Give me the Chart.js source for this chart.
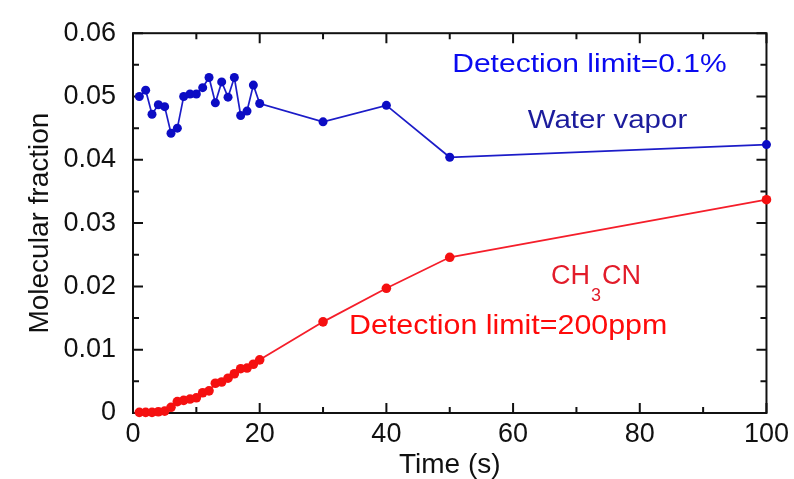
<!DOCTYPE html>
<html>
<head>
<meta charset="utf-8">
<script src="https://cdn.jsdelivr.net/npm/chart.js@4"></script>
<style>
  html, body { margin: 0; padding: 0; background: #fff; }
  #wrap { width: 794px; height: 479px; }
</style>
</head>
<body>
<div id="wrap"><canvas id="chart" width="794" height="479"></canvas></div>
<script>
// time points (s)
const times = [1, 2, 3, 4, 5, 6, 7, 8, 9, 10, 11, 12, 13, 14, 15, 16, 17, 18, 19, 20, 30, 40, 50, 100];

// molecular fraction of water vapor
const waterVapor = [
  0.0500, 0.0510, 0.0472, 0.0487, 0.0484, 0.0442, 0.0450, 0.0500, 0.0504, 0.0504,
  0.0514, 0.0530, 0.0490, 0.0523, 0.0499, 0.0530, 0.0470, 0.0477, 0.0518, 0.0489,
  0.0460, 0.0486, 0.0404, 0.0424
];

// molecular fraction of CH3CN
const acetonitrile = [
  0.0001, 0.0001, 0.0001, 0.0002, 0.0003, 0.0009, 0.0018, 0.0020, 0.0022, 0.0024,
  0.0032, 0.0035, 0.0047, 0.0049, 0.0055, 0.0062, 0.0070, 0.0071, 0.0077, 0.0084,
  0.0144, 0.0197, 0.0246, 0.0337
];

const xTicks = [0, 20, 40, 60, 80, 100];
const yTicks = [0, 0.01, 0.02, 0.03, 0.04, 0.05, 0.06];

const FONT = "'Liberation Sans', Arial, sans-serif";

function toPoints(ys) {
  return times.map((t, i) => ({ x: t, y: ys[i] }));
}

// draws the box around the plot with inward ticks on all four sides
const framePlugin = {
  id: "frame",
  beforeDatasetsDraw(chart) {
    const { ctx, chartArea: a, scales } = chart;
    const xs = scales.x, ys = scales.y;
    ctx.save();
    ctx.strokeStyle = "#111";
    ctx.lineWidth = 2;
    ctx.strokeRect(a.left, a.top, a.right - a.left, a.bottom - a.top);

    ctx.beginPath();
    for (let v = 0; v <= 100; v += 10) {
      const len = v % 20 === 0 ? 10 : 6;
      const px = xs.getPixelForValue(v);
      ctx.moveTo(px, a.bottom);
      ctx.lineTo(px, a.bottom - len);
      ctx.moveTo(px, a.top);
      ctx.lineTo(px, a.top + len);
    }
    for (let k = 0; k <= 12; k++) {
      const len = k % 2 === 0 ? 10 : 6;
      const py = ys.getPixelForValue(k * 0.005);
      ctx.moveTo(a.left, py);
      ctx.lineTo(a.left + len, py);
      ctx.moveTo(a.right, py);
      ctx.lineTo(a.right - len, py);
    }
    ctx.stroke();
    ctx.restore();
  },
};

function drawLabel(ctx, text, x, y, size, sx, color) {
  ctx.save();
  ctx.translate(x, y);
  ctx.scale(sx, 1);
  ctx.font = size + "px " + FONT;
  ctx.fillStyle = color;
  ctx.textBaseline = "alphabetic";
  ctx.textAlign = "left";
  ctx.fillText(text, 0, 0);
  const w = ctx.measureText(text).width * sx;
  ctx.restore();
  return w;
}

// text annotations placed in data coordinates
const notesPlugin = {
  id: "notes",
  afterDatasetsDraw(chart) {
    const { ctx, scales } = chart;
    const X = (v) => scales.x.getPixelForValue(v);
    const Y = (v) => scales.y.getPixelForValue(v);

    drawLabel(ctx, "Detection limit=0.1%", X(50.4), Y(0.0538), 25, 1.2, "#0a0af0");
    drawLabel(ctx, "Water vapor", X(62.3), Y(0.0451), 25, 1.18, "#1c1c9c");

    let x = X(66);
    const base = Y(0.0204);
    x += drawLabel(ctx, "CH", x, base, 27, 1.0, "#e21c2a");
    x += drawLabel(ctx, "3", x + 1, base + 17, 18, 1.0, "#e21c2a") + 2;
    drawLabel(ctx, "CN", x, base, 27, 1.0, "#e21c2a");

    drawLabel(ctx, "Detection limit=200ppm", X(34.1), Y(0.0125), 28, 1.085, "#ff0a0a");
  },
};

new Chart(document.getElementById("chart"), {
  type: "line",
  data: {
    datasets: [
      {
        label: "Water vapor",
        data: toPoints(waterVapor),
        borderColor: "#1c1cc8",
        backgroundColor: "#0c0cc4",
        borderWidth: 1.7,
        pointRadius: 4.5,
        pointBorderWidth: 0,
        clip: false,
      },
      {
        label: "CH3CN",
        data: toPoints(acetonitrile),
        borderColor: "#f51e2a",
        backgroundColor: "#f51010",
        borderWidth: 1.8,
        pointRadius: 4.8,
        pointBorderWidth: 0,
        clip: false,
      },
    ],
  },
  options: {
    responsive: false,
    animation: false,
    layout: { padding: { top: 31, right: 26, left: 0, bottom: 0 } },
    plugins: {
      legend: { display: false },
      tooltip: { enabled: false },
    },
    scales: {
      x: {
        type: "linear",
        min: 0,
        max: 100,
        afterBuildTicks: (scale) => {
          scale.ticks = xTicks.map((v) => ({ value: v }));
        },
        afterFit: (scale) => {
          scale.height = 66;
        },
        grid: { display: false, drawTicks: false },
        border: { display: false },
        ticks: {
          padding: 5,
          color: "#111",
          font: { family: FONT, size: 27 },
          maxRotation: 0,
        },
        title: {
          display: true,
          text: "Time (s)",
          color: "#111",
          font: { family: FONT, size: 28, lineHeight: 1 },
          padding: { top: 0, bottom: 0 },
        },
      },
      y: {
        type: "linear",
        min: 0,
        max: 0.06,
        afterBuildTicks: (scale) => {
          scale.ticks = yTicks.map((v) => ({ value: v }));
        },
        afterFit: (scale) => {
          scale.width = 133;
        },
        grid: { display: false, drawTicks: false },
        border: { display: false },
        ticks: {
          padding: 17,
          color: "#111",
          font: { family: FONT, size: 27 },
          callback: (v) => (v === 0 ? "0" : v.toFixed(2)),
        },
        title: {
          display: true,
          text: "Molecular fraction",
          color: "#111",
          font: { family: FONT, size: 28, lineHeight: 1 },
          padding: { top: 26, bottom: 0 },
        },
      },
    },
  },
  plugins: [framePlugin, notesPlugin],
});
</script>
</body>
</html>
